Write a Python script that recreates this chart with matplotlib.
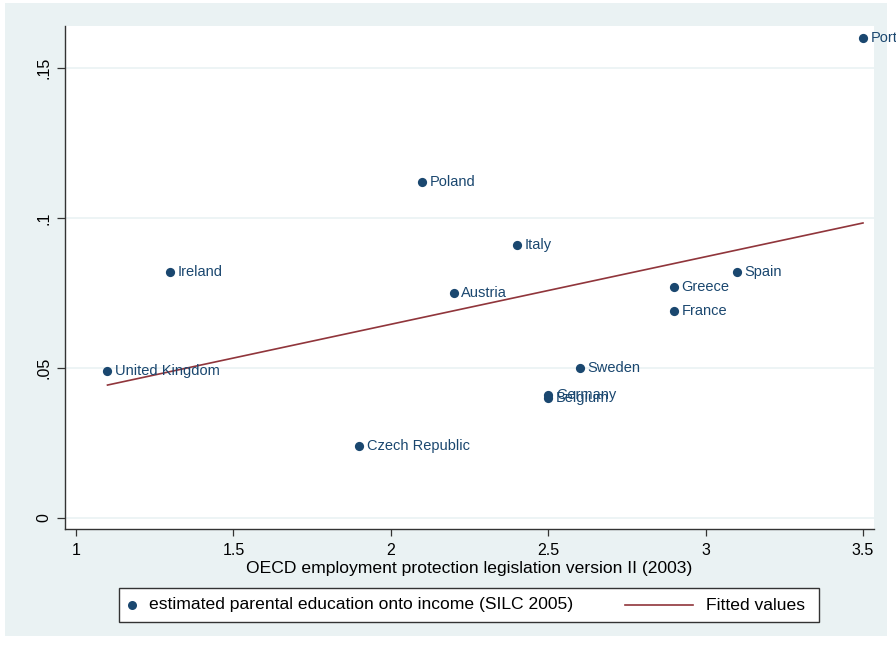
import matplotlib.pyplot as plt
import numpy as np
from matplotlib.lines import Line2D
from matplotlib.patches import Rectangle

plt.rcParams["font.family"] = ["Liberation Sans", "DejaVu Sans"]

countries = ["United Kingdom", "Ireland", "Czech Republic", "Poland", "Austria", "Italy",
             "Germany", "Belgium", "Sweden", "Greece", "France", "Spain", "Portugal"]
epl = [1.1, 1.3, 1.9, 2.1, 2.2, 2.4, 2.5, 2.5, 2.6, 2.9, 2.9, 3.1, 3.5]
parent_edu = [0.049, 0.082, 0.024, 0.112, 0.075, 0.091, 0.041, 0.040, 0.050,
              0.077, 0.069, 0.082, 0.160]

x_ticks = [1, 1.5, 2, 2.5, 3, 3.5]
x_tick_labels = ["1", "1.5", "2", "2.5", "3", "3.5"]
y_ticks = [0, 0.05, 0.1, 0.15]
y_tick_labels = ["0", ".05", ".1", ".15"]

navy = "#1a476f"
maroon = "#90353b"
bg = "#eaf2f3"

W, H = 896, 647


def fx(px):
    return px / W


def fy(py):
    return 1 - py / H


fig = plt.figure(figsize=(W / 100, H / 100), dpi=100, facecolor="white")
fig.patches.append(Rectangle((fx(5), fy(636)), fx(882), 633 / H, transform=fig.transFigure,
                             facecolor=bg, edgecolor="none", zorder=-1))

ax = fig.add_axes([fx(65), fy(529), fx(809), 503 / H])
ax.set_facecolor("white")

x = np.array(epl)
y = np.array(parent_edu)
slope, intercept = np.polyfit(x, y, 1)
xfit = np.array([x.min(), x.max()])

ax.scatter(x, y, s=44, color=navy, zorder=3, clip_on=False, linewidths=0)
ax.plot(xfit, intercept + slope * xfit, color=maroon, lw=1.2, zorder=2)

for name, xi, yi in zip(countries, epl, parent_edu):
    ax.annotate(name, (xi, yi), xytext=(5.5, 0), textcoords="offset points",
                va="center", ha="left", fontsize=10.5, color=navy, annotation_clip=False)

ax.set_xlim(0.965, 3.535)
ax.set_ylim(-0.00367, 0.164)
ax.set_xticks(x_ticks)
ax.set_xticklabels(x_tick_labels, fontsize=11.5)
ax.set_yticks(y_ticks)
ax.set_yticklabels(y_tick_labels, fontsize=11.5, rotation=90, va="center")
ax.grid(axis="y", color=bg, lw=1.2, zorder=0)
ax.set_axisbelow(True)
for side in ["top", "right"]:
    ax.spines[side].set_visible(False)
for side in ["left", "bottom"]:
    ax.spines[side].set_color("#333333")
    ax.spines[side].set_linewidth(1.0)
ax.tick_params(axis="x", direction="out", length=5, width=0.9, pad=5, color="#333333")
ax.tick_params(axis="y", direction="out", length=6, width=0.9, pad=4, color="#333333")
ax.set_xlabel("OECD employment protection legislation version II (2003)",
              fontsize=12.6, labelpad=2.5)

# legend drawn in figure pixels
fig.patches.append(Rectangle((fx(119), fy(622)), fx(700), 34 / H, transform=fig.transFigure,
                             facecolor="white", edgecolor="#333333", lw=1.0, zorder=5))
fig.add_artist(Line2D([fx(132)], [fy(605)], marker="o", markersize=6.5, color=navy,
                      markeredgewidth=0, linestyle="none", transform=fig.transFigure, zorder=6))
fig.text(fx(149), fy(605), "estimated parental education onto income (SILC 2005)",
         fontsize=12.6, va="center", ha="left", zorder=6)
fig.add_artist(Line2D([fx(625), fx(693)], [fy(605), fy(605)], color=maroon, lw=1.2,
                      transform=fig.transFigure, zorder=6))
fig.text(fx(706), fy(605), "Fitted values", fontsize=12.6, va="center", ha="left", zorder=6)

fig.savefig("out.png", dpi=100, facecolor="white")
